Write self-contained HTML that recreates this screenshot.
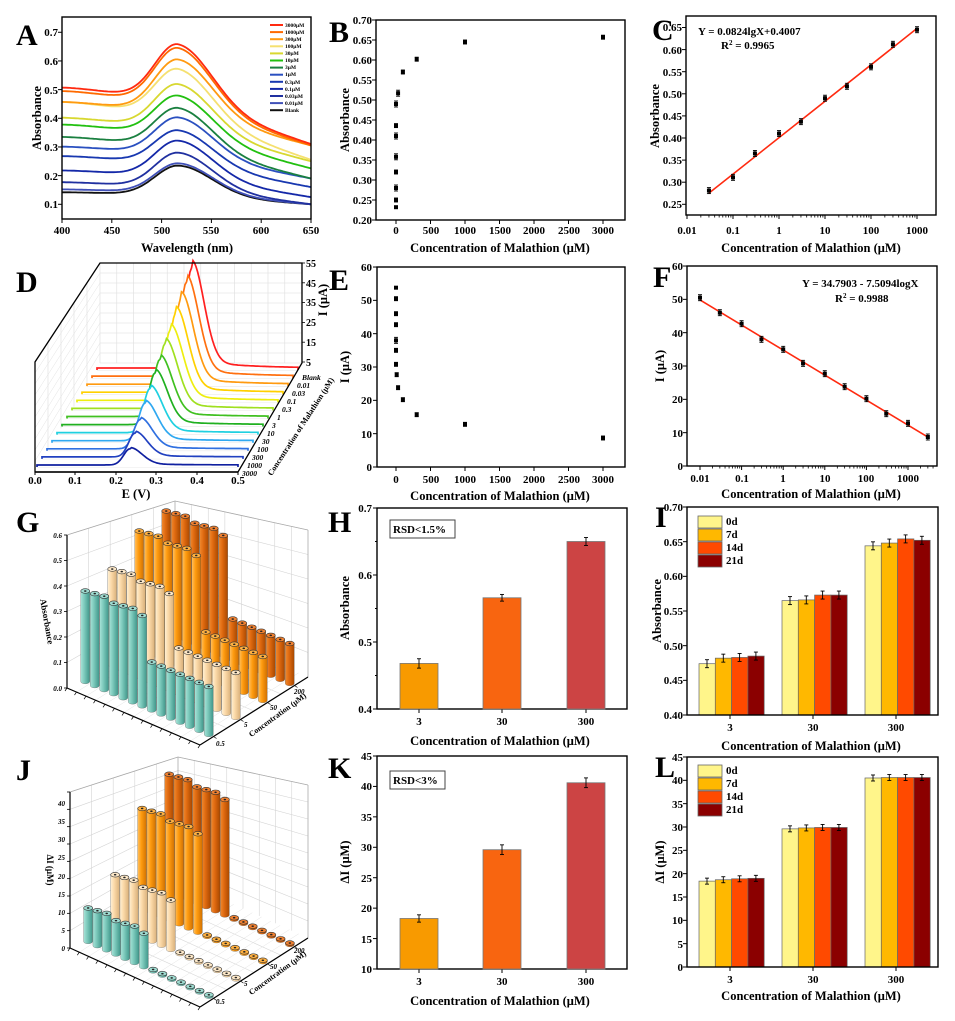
<!DOCTYPE html>
<html><head><meta charset="utf-8"><style>
html,body{margin:0;padding:0;background:#fff;}
svg{display:block;font-family:"Liberation Serif",serif;font-weight:bold;}
.t{font-size:11px;}
.ti{font-size:12.5px;}
.lt{font-size:30px;}
</style></head><body>
<svg id="s" width="955" height="1021" viewBox="0 0 955 1021" xmlns="http://www.w3.org/2000/svg">
<defs>
<linearGradient id="gt" x1="0" x2="1"><stop offset="0" stop-color="#a8e3d8"/><stop offset="0.4" stop-color="#7cc9bb"/><stop offset="1" stop-color="#3f968a"/></linearGradient>
<linearGradient id="gn" x1="0" x2="1"><stop offset="0" stop-color="#fff0d4"/><stop offset="0.4" stop-color="#fbd9a8"/><stop offset="1" stop-color="#d9b07a"/></linearGradient>
<linearGradient id="go" x1="0" x2="1"><stop offset="0" stop-color="#ffc060"/><stop offset="0.4" stop-color="#ff9c10"/><stop offset="1" stop-color="#d07000"/></linearGradient>
<linearGradient id="gd" x1="0" x2="1"><stop offset="0" stop-color="#f08a30"/><stop offset="0.4" stop-color="#e06a10"/><stop offset="1" stop-color="#a84800"/></linearGradient>
</defs>
<rect width="955" height="1021" fill="#fff"/>
<g id="g"></g>
<g id="txt">
<text class="lt" x="16" y="45">A</text>
<text class="lt" x="329" y="42">B</text>
<text class="lt" x="652" y="40">C</text>
<text class="lt" x="16" y="292">D</text>
<text class="lt" x="329" y="290">E</text>
<text class="lt" x="653" y="287">F</text>
<text class="lt" x="16" y="532">G</text>
<text class="lt" x="328" y="532">H</text>
<text class="lt" x="655" y="527">I</text>
<text class="lt" x="16" y="780">J</text>
<text class="lt" x="328" y="778">K</text>
<text class="lt" x="655" y="777">L</text>

<g class="t" text-anchor="end"><text x="58" y="36">0.7</text><text x="58" y="65">0.6</text><text x="58" y="94">0.5</text><text x="58" y="122">0.4</text><text x="58" y="151">0.3</text><text x="58" y="180">0.2</text><text x="58" y="208">0.1</text></g>
<g class="t" text-anchor="middle"><text x="62" y="234">400</text><text x="112" y="234">450</text><text x="162" y="234">500</text><text x="211" y="234">550</text><text x="261" y="234">600</text><text x="311" y="234">650</text></g>
<text class="ti" x="187" y="252" text-anchor="middle">Wavelength (nm)</text>
<text class="ti" transform="translate(41,118) rotate(-90)" text-anchor="middle">Absorbance</text>
<g font-size="5.5" id="leg"><text x="285" y="27">3000μM</text><text x="285" y="34">1000μM</text><text x="285" y="41">300μM</text><text x="285" y="48">100μM</text><text x="285" y="55">30μM</text><text x="285" y="62">10μM</text><text x="285" y="69">3μM</text><text x="285" y="76">1μM</text><text x="285" y="84">0.3μM</text><text x="285" y="91">0.1μM</text><text x="285" y="98">0.03μM</text><text x="285" y="105">0.01μM</text><text x="285" y="112">Blank</text></g>

<g class="t" text-anchor="end"><text x="372" y="24">0.70</text><text x="372" y="44">0.65</text><text x="372" y="64">0.60</text><text x="372" y="84">0.55</text><text x="372" y="104">0.50</text><text x="372" y="124">0.45</text><text x="372" y="144">0.40</text><text x="372" y="164">0.35</text><text x="372" y="184">0.30</text><text x="372" y="204">0.25</text><text x="372" y="224">0.20</text></g>
<g class="t" text-anchor="middle"><text x="396" y="234">0</text><text x="431" y="234">500</text><text x="465" y="234">1000</text><text x="500" y="234">1500</text><text x="534" y="234">2000</text><text x="569" y="234">2500</text><text x="603" y="234">3000</text></g>
<text class="ti" x="500" y="252" text-anchor="middle">Concentration of Malathion (μM)</text>
<text class="ti" transform="translate(349,120) rotate(-90)" text-anchor="middle">Absorbance</text>

<g class="t" text-anchor="end"><text x="682" y="31">0.65</text><text x="682" y="54">0.60</text><text x="682" y="76">0.55</text><text x="682" y="98">0.50</text><text x="682" y="120">0.45</text><text x="682" y="142">0.40</text><text x="682" y="164">0.35</text><text x="682" y="186">0.30</text><text x="682" y="208">0.25</text></g>
<g class="t" text-anchor="middle"><text x="687" y="234">0.01</text><text x="733" y="234">0.1</text><text x="779" y="234">1</text><text x="825" y="234">10</text><text x="871" y="234">100</text><text x="917" y="234">1000</text></g>
<text class="ti" x="811" y="252" text-anchor="middle">Concentration of Malathion (μM)</text>
<text class="ti" transform="translate(659,116) rotate(-90)" text-anchor="middle">Absorbance</text>
<text x="698" y="35" font-size="11">Y = 0.0824lgX+0.4007</text>
<text x="721" y="49" font-size="11">R<tspan font-size="7" dy="-4">2</tspan><tspan dy="4"> = 0.9965</tspan></text>

<g font-size="10" text-anchor="start"><text x="306" y="267">55</text><text x="306" y="287">45</text><text x="306" y="306">35</text><text x="306" y="326">25</text><text x="306" y="346">15</text><text x="306" y="366">5</text></g>
<text class="ti" transform="translate(327,300) rotate(-90)" text-anchor="middle">I (μA)</text>
<g class="t" text-anchor="middle"><text x="35" y="484">0.0</text><text x="75" y="484">0.1</text><text x="116" y="484">0.2</text><text x="156" y="484">0.3</text><text x="197" y="484">0.4</text><text x="238" y="484">0.5</text></g>
<text class="ti" x="136" y="498" text-anchor="middle">E (V)</text>
<g font-size="7.5" font-style="italic" id="dlab"><text x="302" y="380">Blank</text><text x="297" y="388">0.01</text><text x="292" y="396">0.03</text><text x="287" y="404">0.1</text><text x="282" y="412">0.3</text><text x="277" y="420">1</text><text x="272" y="428">3</text><text x="267" y="436">10</text><text x="262" y="444">30</text><text x="257" y="452">100</text><text x="252" y="460">300</text><text x="247" y="468">1000</text><text x="242" y="476">3000</text></g>
<text font-size="8" transform="translate(303,428) rotate(-57)" text-anchor="middle">Concentration of Malathion (μM)</text>

<g class="t" text-anchor="end"><text x="372" y="271">60</text><text x="372" y="304">50</text><text x="372" y="338">40</text><text x="372" y="371">30</text><text x="372" y="404">20</text><text x="372" y="438">10</text><text x="372" y="471">0</text></g>
<g class="t" text-anchor="middle"><text x="396" y="483">0</text><text x="431" y="483">500</text><text x="465" y="483">1000</text><text x="500" y="483">1500</text><text x="534" y="483">2000</text><text x="569" y="483">2500</text><text x="603" y="483">3000</text></g>
<text class="ti" x="500" y="500" text-anchor="middle">Concentration of Malathion (μM)</text>
<text class="ti" transform="translate(349,367) rotate(-90)" text-anchor="middle">I (μA)</text>

<g class="t" text-anchor="end"><text x="683" y="270">60</text><text x="683" y="303">50</text><text x="683" y="337">40</text><text x="683" y="370">30</text><text x="683" y="403">20</text><text x="683" y="437">10</text><text x="683" y="470">0</text></g>
<g class="t" text-anchor="middle"><text x="700" y="482">0.01</text><text x="742" y="482">0.1</text><text x="783" y="482">1</text><text x="825" y="482">10</text><text x="866" y="482">100</text><text x="908" y="482">1000</text></g>
<text class="ti" x="811" y="498" text-anchor="middle">Concentration of Malathion (μM)</text>
<text class="ti" transform="translate(664,366) rotate(-90)" text-anchor="middle">I (μA)</text>
<text x="802" y="287" font-size="11">Y = 34.7903 - 7.5094logX</text>
<text x="835" y="302" font-size="11">R<tspan font-size="7" dy="-4">2</tspan><tspan dy="4"> = 0.9988</tspan></text>

<g font-size="7" font-style="italic" text-anchor="end"><text x="62" y="691">0.0</text><text x="62" y="665">0.1</text><text x="62" y="640">0.2</text><text x="62" y="614">0.3</text><text x="62" y="589">0.4</text><text x="62" y="563">0.5</text><text x="62" y="538">0.6</text></g>
<text font-size="9" transform="translate(44,622) rotate(80)" text-anchor="middle">Absorbance</text>
<text font-size="8" transform="translate(279,717) rotate(-36)" text-anchor="middle">Concentration (μM)</text>
<g font-size="7" font-style="italic"><text x="216" y="746">0.5</text><text x="244" y="727">5</text><text x="270" y="710">50</text><text x="294" y="694">200</text></g>

<g class="t" text-anchor="end"><text x="372" y="512">0.7</text><text x="372" y="579">0.6</text><text x="372" y="646">0.5</text><text x="372" y="713">0.4</text></g>
<g class="t" text-anchor="middle"><text x="419" y="725">3</text><text x="502" y="725">30</text><text x="586" y="725">300</text></g>
<text class="ti" x="500" y="745" text-anchor="middle">Concentration of Malathion (μM)</text>
<text class="ti" transform="translate(349,608) rotate(-90)" text-anchor="middle">Absorbance</text>
<rect x="390" y="520" width="65" height="18" fill="#fff" stroke="#444" stroke-width="1"/>
<text x="393" y="533" font-size="11">RSD&lt;1.5%</text>

<g class="t" text-anchor="end"><text x="683" y="511">0.70</text><text x="683" y="546">0.65</text><text x="683" y="580">0.60</text><text x="683" y="615">0.55</text><text x="683" y="650">0.50</text><text x="683" y="684">0.45</text><text x="683" y="719">0.40</text></g>
<g class="t" text-anchor="middle"><text x="730" y="731">3</text><text x="813" y="731">30</text><text x="896" y="731">300</text></g>
<text class="ti" x="811" y="750" text-anchor="middle">Concentration of Malathion (μM)</text>
<text class="ti" transform="translate(661,611) rotate(-90)" text-anchor="middle">Absorbance</text>
<g class="t"><text x="726" y="525">0d</text><text x="726" y="538">7d</text><text x="726" y="551">14d</text><text x="726" y="564">21d</text></g>

<g font-size="7" font-style="italic" text-anchor="end"><text x="65" y="951">0</text><text x="65" y="933">5</text><text x="65" y="915">10</text><text x="65" y="897">15</text><text x="65" y="879">20</text><text x="65" y="860">25</text><text x="65" y="842">30</text><text x="65" y="824">35</text><text x="65" y="806">40</text></g>
<text font-size="9" transform="translate(47,870) rotate(90)" text-anchor="middle">ΔI (μM)</text>
<text font-size="8" transform="translate(279,975) rotate(-36)" text-anchor="middle">Concentration (μM)</text>
<g font-size="7" font-style="italic"><text x="216" y="1004">0.5</text><text x="244" y="986">5</text><text x="270" y="969">50</text><text x="294" y="953">200</text></g>

<g class="t" text-anchor="end"><text x="372" y="760">45</text><text x="372" y="790">40</text><text x="372" y="821">35</text><text x="372" y="851">30</text><text x="372" y="882">25</text><text x="372" y="912">20</text><text x="372" y="943">15</text><text x="372" y="973">10</text></g>
<g class="t" text-anchor="middle"><text x="419" y="985">3</text><text x="502" y="985">30</text><text x="586" y="985">300</text></g>
<text class="ti" x="500" y="1005" text-anchor="middle">Concentration of Malathion (μM)</text>
<text class="ti" transform="translate(349,862) rotate(-90)" text-anchor="middle">ΔI (μM)</text>
<rect x="390" y="771" width="55" height="18" fill="#fff" stroke="#444" stroke-width="1"/>
<text x="393" y="784" font-size="11">RSD&lt;3%</text>

<g class="t" text-anchor="end"><text x="683" y="761">45</text><text x="683" y="784">40</text><text x="683" y="808">35</text><text x="683" y="831">30</text><text x="683" y="854">25</text><text x="683" y="878">20</text><text x="683" y="901">15</text><text x="683" y="924">10</text><text x="683" y="948">5</text><text x="683" y="971">0</text></g>
<g class="t" text-anchor="middle"><text x="730" y="983">3</text><text x="813" y="983">30</text><text x="896" y="983">300</text></g>
<text class="ti" x="811" y="1000" text-anchor="middle">Concentration of Malathion (μM)</text>
<text class="ti" transform="translate(664,862) rotate(-90)" text-anchor="middle">ΔI (μM)</text>
<g class="t"><text x="726" y="774">0d</text><text x="726" y="787">7d</text><text x="726" y="800">14d</text><text x="726" y="813">21d</text></g>
</g>
</svg>
<script>
(function(){
const NS='http://www.w3.org/2000/svg';
const G=document.getElementById('g');
function el(t,a){const e=document.createElementNS(NS,t);for(const k in a)e.setAttribute(k,a[k]);G.appendChild(e);return e;}
function L(x1,y1,x2,y2,s,w){el('line',{x1,y1,x2,y2,stroke:s||'#000','stroke-width':w||1});}
function R(x,y,w,h,f,s,sw){el('rect',{x,y,width:w,height:h,fill:f,stroke:s||'none','stroke-width':sw||0});}
function P(d,s,w,f){el('path',{d,stroke:s||'none','stroke-width':w||1,fill:f||'none'});}
function frame(x0,y0,x1,y1){R(x0,y0,x1-x0,y1-y0,'none','#000',1.4);}
function yt(x0,ys,len){ys.forEach(y=>L(x0-(len||4),y,x0,y,'#000',1));}
function xt(y0,xs,len){xs.forEach(x=>L(x,y0,x,y0+(len||4),'#000',1));}
function eb(x,y,e){L(x,y-e,x,y+e,'#000',0.9);L(x-2,y-e,x+2,y-e,'#000',0.9);L(x-2,y+e,x+2,y+e,'#000',0.9);}
function pt(x,y,e){R(x-2,y-2,4,4,'#000');eb(x,y,e);}
const lg=Math.log10;

const ay=v=>204.3-(v-0.1)*286.7, ax=w=>62+(w-400)*0.996;
const AD=[[.507,.658,.31,'#ff2a10'],[.495,.645,.305,'#ff6a00'],[.457,.605,.305,'#ff9a10'],[.457,.572,.255,'#f5e070'],[.402,.519,.25,'#d8d830'],[.378,.479,.225,'#22c010'],[.335,.436,.19,'#1a8040'],[.301,.403,.19,'#2a50c0'],[.268,.358,.16,'#1838b0'],[.218,.322,.125,'#1428a8'],[.177,.28,.10,'#2030a0'],[.152,.243,.10,'#4050b8'],[.142,.235,.10,'#111111']];
AD.slice().reverse().forEach(([a,p,b,c])=>{
  const base=w=>{const t=(w-400)/250;return a+(b-a)*Math.pow(t,1.5);};
  const amp=p-base(517);let d='';
  for(let w=400;w<=650;w+=2){const s=w<517?33:48;const v=base(w)+amp*Math.exp(-Math.pow((w-517)/s,2));d+=(w==400?'M':'L')+ax(w).toFixed(1)+','+ay(v).toFixed(1);}
  P(d,c,1.8);
});
frame(62,17,311,219);
yt(62,[.1,.2,.3,.4,.5,.6,.7].map(ay));xt(219,[400,450,500,550,600,650].map(ax));
AD.forEach((r,i)=>L(270,25+i*7.1,283,25+i*7.1,r[3],2));

const by=v=>220-(v-0.2)*400, bx=v=>396+0.069*v;
frame(376,20,625,220);
yt(376,[.2,.25,.3,.35,.4,.45,.5,.55,.6,.65,.7].map(by));xt(220,[0,500,1000,1500,2000,2500,3000].map(bx));
[[0,.232,0],[0,.25,2],[0,.28,3],[0,.32,2],[0,.358,3],[0,.41,3],[0,.436,2],[0,.49,3],[30,.517,3],[100,.57,2],[300,.602,2],[1000,.645,2],[3000,.657,2]].forEach(([c,v,e])=>pt(bx(c),by(v),e));

const cy=v=>204.3-(v-0.25)*442, cx=v=>687+46*(lg(v)+2);
frame(686,16,936,215);
yt(686,[.25,.3,.35,.4,.45,.5,.55,.6,.65].map(cy));xt(215,[.01,.1,1,10,100,1000].map(cx));
for(let d=-2;d<3;d++)for(let k=2;k<10;k++)L(cx(k*Math.pow(10,d)),215,cx(k*Math.pow(10,d)),217.5,'#000',0.8);
L(cx(0.03),cy(0.0824*lg(0.03)+0.4007),cx(1000),cy(0.0824*3+0.4007),'#ff2a10',1.6);
[[.03,.281],[.1,.311],[.3,.365],[1,.41],[3,.437],[10,.49],[30,.517],[100,.561],[300,.612],[1000,.645]].forEach(([c,v])=>pt(cx(c),cy(v),3));

P('M35,472 L35,362 L100,263 L100,363 L35,472 Z','none',0,'#fff');
for(let x=100;x<=302;x+=16.8)L(x,263,x,363,'#ddd',0.6);
for(let y=263;y<=363;y+=10)L(100,y,302,y,'#ddd',0.6);
for(let k=1;k<5;k++){const x=35+k*13;L(x,362-(x-35)*99/65,x,472-(x-35)*109/65,'#ddd',0.6);}
for(let k=1;k<10;k++){L(35,362+k*11,100,263+k*10,'#e2e2e2',0.5);}
const DI=[53.8,50.5,46,42.7,38,35,30.8,27.7,23.8,20.2,15.7,12.8,8.7];
const DC=['#ff2020','#ff7010','#ff9a10','#ffd000','#eeee10','#a0e020','#40c020','#20b020','#20d0e0','#30a8f0','#3070e0','#2040c0','#1020a0'];
for(let i=0;i<13;i++){const x0=97-i*5,yb=370+i*8.08;L(x0,yb,x0+201,yb,'#ccc',0.5);}
for(let i=0;i<13;i++){
  const x0=97-i*5,yb=370+i*8.08,h=DI[i]*1.86,pk=x0+93+(i<6?(6-i)*0.3:0);
  let d='M'+x0+','+yb;
  for(let x=0;x<=201;x+=1.5){const X=x0+x;const dx=X-pk;const s=dx<0?9:17;let v=h*Math.exp(-dx*dx/(s*s));if(dx>0)v+=h*0.08*Math.exp(-dx/45);v+=2;d+=' L'+X.toFixed(1)+','+(yb-v).toFixed(1);}
  d+=' L'+(x0+201)+','+yb;
  P(d+' Z','none',0,'#fff');P(d,DC[i],1.7);
}
P('M35,472 L35,362 L100,263 L302,263 L302,363 L238,472 Z','#000',1.3);
L(35,472,238,472,'#000',1.6);
for(let k=0;k<6;k++)L(302,263+k*19.8,305,263+k*19.8,'#000',0.8);
xt(472,[35,75,116,156,197,238],3);

const ey=v=>467-v*3.333;
frame(377,267,625,467);
yt(377,[0,10,20,30,40,50,60].map(ey));xt(467,[0,500,1000,1500,2000,2500,3000].map(bx));
[[0,53.8,0],[0,50.5,2],[0,46,2],[0,42.7,2],[0,38,3],[0,35,2],[0,30.8,2],[10,27.7,2],[30,23.8,2],[100,20.2,2],[300,15.7,2],[1000,12.8,2],[3000,8.7,2]].forEach(([c,v,e])=>pt(bx(c),ey(v),e));

const fy=v=>466-v*3.333, fx=v=>700+41.6*(lg(v)+2);
frame(687,266,937,466);
yt(687,[0,10,20,30,40,50,60].map(fy));xt(466,[.01,.1,1,10,100,1000].map(fx));
for(let d=-2;d<4;d++)for(let k=2;k<10;k++){const x=fx(k*Math.pow(10,d));if(x<937)L(x,466,x,468.5,'#000',0.8);}
L(fx(.01),fy(34.7903+7.5094*2),fx(3000),fy(34.7903-7.5094*lg(3000)),'#ff2a10',1.6);
[[.01,50.5],[.03,46],[.1,42.7],[.3,38],[1,35],[3,30.8],[10,27.7],[30,23.8],[100,20.2],[300,15.7],[1000,12.8],[3000,8.7]].forEach(([c,v])=>pt(fx(c),fy(v),3));

const GR=['url(#gt)','url(#gn)','url(#go)','url(#gd)'];
const TOP=['#9edbd0','#fde8c8','#ffb040','#f08030'];
function cyl(x,yb,h,ri){const w=9,ry=2.3;
  P(`M${x-w/2},${yb-h} L${x-w/2},${yb} A${w/2},${ry} 0 0 0 ${x+w/2},${yb} L${x+w/2},${yb-h} Z`,'#555',0.3,GR[ri]);
  el('ellipse',{cx:x,cy:yb-h,rx:w/2,ry:ry,fill:TOP[ri],stroke:'#333','stroke-width':0.6});
  el('ellipse',{cx:x,cy:yb-h,rx:1.3,ry:0.8,fill:'#222'});}
function box3(A,B,C,topL,topD,topR,Dx,nk){
  const D=[A[0]+C[0]-B[0],A[1]+C[1]-B[1]];
  P(`M${A[0]},${A[1]} L${A[0]},${topL} L${D[0]},${topD} L${D[0]},${D[1]} Z`,'none',0,'#fff');
  for(let k=1;k<=nk;k++){const f=k/nk;L(A[0],A[1]-(A[1]-topL)*f,D[0],D[1]-(D[1]-topD)*f,'#d4d4d4',0.6);L(D[0],D[1]-(D[1]-topD)*f,C[0],C[1]-(C[1]-topR)*f,'#d4d4d4',0.6);}
  for(let k=1;k<5;k++){const f=k/5;const x=A[0]+(D[0]-A[0])*f;L(x,A[1]+(D[1]-A[1])*f,x,topL+(topD-topL)*f,'#d4d4d4',0.6);}
  for(let k=1;k<8;k++){const f=k/8;const x=D[0]+(C[0]-D[0])*f;L(x,D[1]+(C[1]-D[1])*f,x,topD+(topR-topD)*f,'#d4d4d4',0.6);}
  for(let k=1;k<4;k++){const f=k/4;L(A[0]+(D[0]-A[0])*f,A[1]+(D[1]-A[1])*f,B[0]+(C[0]-B[0])*f,B[1]+(C[1]-B[1])*f,'#d8d8d8',0.6);}
  for(let k=1;k<14;k++){const f=k/14;L(A[0]+(B[0]-A[0])*f,A[1]+(B[1]-A[1])*f,D[0]+(C[0]-D[0])*f,D[1]+(C[1]-D[1])*f,'#e4e4e4',0.5);}
  P(`M${A[0]},${topL} L${D[0]},${topD} L${C[0]},${topR}`,'#aaa',0.8);
  L(D[0],D[1],D[0],topD,'#aaa',0.8);L(C[0],C[1],C[0],topR,'#aaa',0.8);
  L(A[0],A[1],A[0],topL,'#000',1.2);
  for(let k=0;k<=nk;k++){const y=A[1]-(A[1]-topL)*k/nk;L(A[0]-3,y,A[0],y,'#000',0.8);}
  L(A[0],A[1],B[0],B[1],'#000',1.2);L(B[0],B[1],C[0],C[1],'#000',1.2);
  for(let k=0;k<=14;k++){const f=k/14;const x=A[0]+(B[0]-A[0])*f,y=A[1]+(B[1]-A[1])*f;L(x,y,x-2,y+3,'#000',0.7);}
  for(let k=0;k<4;k++){const f=(k+.5)/4;const x=B[0]+(C[0]-B[0])*f,y=B[1]+(C[1]-B[1])*f;L(x,y,x+3,y+2,'#000',0.7);}
  return D;
}
function bars(A,B,C,tall,short){
  const c=[(B[0]-A[0])/14,(B[1]-A[1])/14],r=[(C[0]-B[0])/4,(C[1]-B[1])/4];
  for(let ri=3;ri>=0;ri--)for(let j=0;j<14;j++){
    const x=A[0]+c[0]*(j+.5)+r[0]*(ri+.5),y=A[1]+c[1]*(j+.5)+r[1]*(ri+.5);
    const h=j<7?tall[ri]+(j%3-1)*1.5:short[ri];cyl(x,y,h,ri);}
}
box3([67,688],[200,745],[308,677],535,501,530,178,6);
bars([67,688],[200,745],[308,677],[92,97,118,121],[48,45,44,40]);
box3([70,948],[200,1007],[308,938],792,757,785,178,9);
bars([70,948],[200,1007],[308,938],[35,51,100,117],[1.5,1.5,1.5,1.5]);

const hy=v=>709-(v-0.4)*670;
frame(377,508,627,709);
yt(377,[.4,.5,.6,.7].map(hy));yt(377,[.45,.55,.65].map(hy),2);xt(709,[419,502,586]);
[[400,.468,'#f89a00',.007],[483,.566,'#f86510',.005],[567,.65,'#cc4444',.006]].forEach(([x,v,c,e])=>{R(x,hy(v),38,709-hy(v),c,'#777',0.8);eb(x+19,hy(v),e*670);});

const iy=v=>715-(v-0.4)*693.3;
const IC=['#fff58a','#ffb800','#ff4a00','#8b0000'];
const IV=[[.474,.482,.483,.485],[.565,.566,.573,.573],[.644,.648,.654,.652]];
[699,782,865].forEach((gx,g)=>IV[g].forEach((v,k)=>{const x=gx+k*16.3;R(x,iy(v),16.3,715-iy(v),IC[k],'#666',0.7);eb(x+8,iy(v),4);}));
frame(687,507,938,715);
yt(687,[.4,.45,.5,.55,.6,.65,.7].map(iy));xt(715,[730,813,896]);
IC.forEach((c,k)=>R(698,516+k*13,24,12,c,'#666',0.8));

const ky=v=>969-(v-10)*6.086;
frame(377,756,627,969);
yt(377,[10,15,20,25,30,35,40,45].map(ky));xt(969,[419,502,586]);
[[400,18.3,'#f89a00',.6],[483,29.6,'#f86510',.8],[567,40.6,'#cc4444',.8]].forEach(([x,v,c,e])=>{R(x,ky(v),38,969-ky(v),c,'#777',0.8);eb(x+19,ky(v),e*6.086);});

const ly=v=>967-v*4.667;
const LV=[[18.4,18.7,18.9,19.0],[29.6,29.8,29.9,29.9],[40.5,40.6,40.6,40.6]];
[699,782,865].forEach((gx,g)=>LV[g].forEach((v,k)=>{const x=gx+k*16.3;R(x,ly(v),16.3,967-ly(v),IC[k],'#666',0.7);eb(x+8,ly(v),3);}));
frame(687,757,938,967);
yt(687,[0,5,10,15,20,25,30,35,40,45].map(ly));xt(967,[730,813,896]);
IC.forEach((c,k)=>R(698,765+k*13,24,12,c,'#666',0.8));
})();
</script>
</body></html>
